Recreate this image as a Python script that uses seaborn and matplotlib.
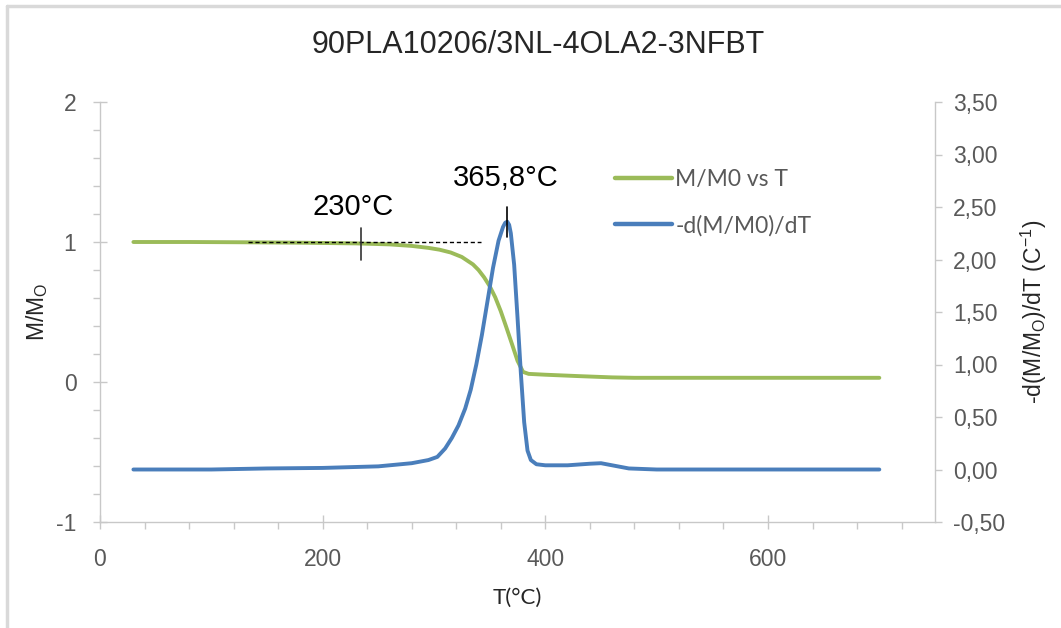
import numpy as np
import pandas as pd
import matplotlib
matplotlib.use("Agg")
import matplotlib.pyplot as plt
import seaborn as sns
from matplotlib.ticker import MultipleLocator, FuncFormatter
from matplotlib.lines import Line2D

# ---- data ----
T_mass = [30, 80, 130, 180, 230, 260, 280, 295, 305, 315, 325, 335, 340, 345, 350, 355,
          360, 365, 370, 375, 380, 385, 400, 430, 460, 480, 550, 620, 700]
M_ratio = [1.000, 1.000, 0.998, 0.995, 0.990, 0.983, 0.972, 0.958, 0.945, 0.925, 0.893,
           0.840, 0.800, 0.748, 0.685, 0.605, 0.505, 0.390, 0.272, 0.152, 0.072, 0.058,
           0.052, 0.042, 0.033, 0.030, 0.030, 0.030, 0.030]

T_deriv = [30, 100, 150, 200, 250, 280, 295, 303, 310, 316, 322, 328, 333, 338, 343,
           348, 353, 358, 362, 364, 365.8, 367.5, 369, 372, 375, 378, 381, 384, 387, 392,
           400, 420, 440, 450, 460, 475, 500, 600, 700]
dMdT = [0.00, 0.00, 0.01, 0.015, 0.03, 0.06, 0.09, 0.12, 0.20, 0.30, 0.42, 0.58, 0.76,
        1.00, 1.28, 1.60, 1.92, 2.18, 2.31, 2.35, 2.36, 2.33, 2.25, 1.95, 1.45, 0.92,
        0.45, 0.18, 0.09, 0.05, 0.04, 0.04, 0.055, 0.06, 0.04, 0.01, 0.00, 0.00, 0.00]

title = "90PLA10206/3NL-4OLA2-3NFBT"
label_mass = "M/M0 vs T"
label_deriv = "-d(M/M0)/dT"
onset_T = 230
onset_text = "230°C"
peak_T = 365.8
peak_text = "365,8°C"

# ---- styling ----
sns.set_theme(style="white")
plt.rcParams['font.family'] = ['Liberation Sans', 'DejaVu Sans']
plt.rcParams['axes.unicode_minus'] = False

green = "#9BBB59"
blue = "#4A7EBB"
axcol = "#C8C8C8"
tickcol = "#595959"

fig = plt.figure(figsize=(10.61, 6.28), dpi=100)
ax = fig.add_axes([100/1061, 1-522/628, 835/1061, 420/628])
ax2 = ax.twinx()

df_m = pd.DataFrame({"T": T_mass, "M": M_ratio})
df_d = pd.DataFrame({"T": T_deriv, "D": dMdT})
sns.lineplot(data=df_m, x="T", y="M", ax=ax, color=green, lw=2.8, sort=False, label=label_mass, legend=False)
sns.lineplot(data=df_d, x="T", y="D", ax=ax2, color=blue, lw=2.8, sort=False, label=label_deriv, legend=False)

ax.set_xlim(0, 750)
ax.set_ylim(-1, 2)
ax2.set_ylim(-0.5, 3.5)

ax.xaxis.set_major_locator(MultipleLocator(200))
ax.xaxis.set_minor_locator(MultipleLocator(40))
ax.yaxis.set_major_locator(MultipleLocator(1))
ax.yaxis.set_minor_locator(MultipleLocator(0.2))
ax2.yaxis.set_major_locator(MultipleLocator(0.5))
ax2.yaxis.set_major_formatter(FuncFormatter(lambda v, p: f"{v:.2f}".replace('.', ',')))

for a in (ax, ax2):
    for s in a.spines.values():
        s.set_color(axcol)
        s.set_linewidth(1.0)
    a.spines['top'].set_visible(False)
    a.grid(False)
ax.spines['right'].set_visible(False)
ax2.spines['left'].set_visible(False)
ax2.spines['bottom'].set_visible(False)

ax.tick_params(axis='both', which='major', direction='inout', length=10, width=1, color=axcol,
               labelsize=16.5, labelcolor=tickcol)
ax.tick_params(axis='both', which='minor', direction='out', length=5, width=1, color=axcol)
ax.tick_params(axis='x', which='both', bottom=True)
ax.tick_params(axis='y', which='both', left=True)
ax.tick_params(axis='x', pad=14)
ax.tick_params(axis='y', pad=12)
ax2.tick_params(axis='y', which='major', direction='out', length=5, width=1, color=axcol,
                labelsize=16.5, labelcolor=tickcol, pad=8, right=True)

ax.set_xlabel("T(°C)", fontsize=16, family=['Lato', 'DejaVu Sans'], color="#262626", labelpad=12)
ax.set_ylabel("M/M$_\\mathregular{O}$", fontsize=16.5, color="#262626", labelpad=4)
ax2.set_ylabel("-d(M/M$_\\mathregular{O}$)/dT (C$^\\mathregular{-1}$)", fontsize=16.5, color="#262626",
               labelpad=10, rotation=90)

fig.text(538/1061, 1-45/628, title, ha='center', va='center', fontsize=22, color="#262626")

# annotations
ax.plot([133, 342], [1.0, 1.0], ls=(0, (3, 2)), color='black', lw=1.0)
ax.plot([onset_T + 4, onset_T + 4], [0.87, 1.10], color='#333333', lw=1.2)
ax.text(onset_T - 3, 1.25, onset_text, ha='center', va='center', fontsize=21, color='black')
ax2.plot([peak_T, peak_T], [2.21, 2.50], color='black', lw=1.2)
ax2.text(peak_T - 1, 2.78, peak_text, ha='center', va='center', fontsize=21, color='black')

handles = [Line2D([], [], color=green, lw=3.2), Line2D([], [], color=blue, lw=3.2)]
leg = ax2.legend(handles, [label_mass, label_deriv], loc='upper left',
                 bbox_to_anchor=(594/1061, 1-148/628), bbox_transform=fig.transFigure,
                 frameon=False, handlelength=2.5, handletextpad=0.15, labelspacing=1.1,
                 prop={'family': ['Lato', 'DejaVu Sans'], 'size': 16.5})
for t in leg.get_texts():
    t.set_color(tickcol)

# chart frame (top / left edges visible in the screenshot)
fig.add_artist(Line2D([7/1061, 7/1061], [0, 1-6/628], transform=fig.transFigure, color="#D9D9D9", lw=2.5))
fig.add_artist(Line2D([7/1061, 1], [1-6/628, 1-6/628], transform=fig.transFigure, color="#D9D9D9", lw=2.5))

fig.savefig("out.png", dpi=100)
